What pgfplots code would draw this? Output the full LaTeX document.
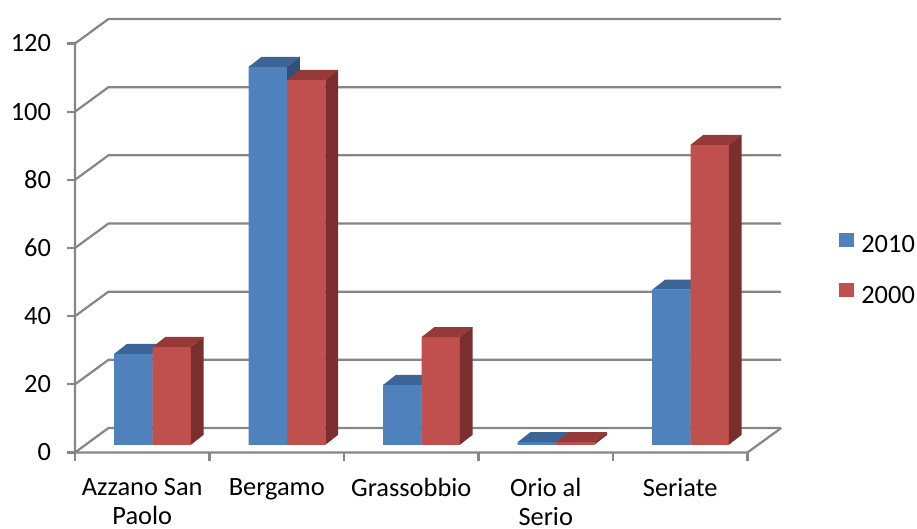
\documentclass[border=0pt]{standalone}
\usepackage{pgfplots}
\pgfplotsset{compat=1.18}
\usepackage{fontspec}
\setmainfont{Carlito}
\definecolor{bfront}{HTML}{4F81BD}
\definecolor{btop}{HTML}{3C6597}
\definecolor{bside}{HTML}{2F5079}
\definecolor{rfront}{HTML}{C0504D}
\definecolor{rtop}{HTML}{963A38}
\definecolor{rside}{HTML}{7A2E2D}
\definecolor{gridc}{HTML}{868686}
\newcommand{\faces}[4]{%
  \pgfmathsetmacro{\xa}{#1}%
  \pgfmathsetmacro{\xb}{#1+0.2848}%
  \pgfmathsetmacro{\xc}{#1+0.0952}%
  \pgfmathsetmacro{\xd}{#1+0.38}%
  \pgfmathsetmacro{\yt}{#2+2.93}%
  \addplot[fill=#3,draw=none,forget plot] coordinates {(\xa,#2) (\xb,#2) (\xd,\yt) (\xc,\yt)} --cycle;
  \addplot[fill=#4,draw=none,forget plot] coordinates {(\xb,0) (\xd,2.93) (\xd,\yt) (\xb,#2)} --cycle;
}
\pgfplotsset{
  mybar/.style={ybar, bar width=19.15pt, draw=none,
    legend image code/.code={\fill[##1] (0pt,0pt) rectangle (7.5pt,7.1pt);}},
}
\begin{document}
\begin{tikzpicture}
\useasboundingbox (0,0) rectangle (458.5pt,264.5pt);
% front plane axis: ticks, labels, walls
\begin{axis}[
  at={(37.5pt,38.25pt)}, anchor=south west,
  scale only axis, width=336.25pt, height=204.5pt,
  xmin=-0.5, xmax=4.5, ymin=0, ymax=120,
  clip=false,
  axis line style={draw=none},
  major tick length=0pt,
  ytick={0,20,...,120},
  xtick={0,1,2,3,4},
  xticklabels={{Azzano San\\Paolo},Bergamo,Grassobbio,{Orio al\\Serio},Seriate},
  tick label style={font=\fontsize{13.2}{14.2}\selectfont},
  /pgf/number format/assume math mode=true,
  yticklabel style={anchor=east, inner sep=0pt, xshift=-11.8pt},
  xticklabel style={anchor=north, inner sep=0pt, yshift=-12.8pt, align=center},
]
\pgfplotsinvokeforeach{0,20,40,60,80,100,120}{
  \draw[gridc, line width=1.1pt] (axis cs:-0.5,#1) -- (axis cs:-0.251,#1+7.19) -- (axis cs:4.751,#1+7.19);
  \draw[gridc, line width=1.1pt] (axis cs:-0.5,#1) -- ++(-4pt,0pt);
}
\draw[gridc, line width=1.1pt] (axis cs:-0.5,120) -- (axis cs:-0.5,0) -- (axis cs:4.5,0) -- (axis cs:4.751,7.19);
\pgfplotsinvokeforeach{-0.5,0.5,1.5,2.5,3.5,4.5}{
  \draw[gridc, line width=1.1pt] (axis cs:#1,0) -- ++(0pt,-4.5pt);
}
\end{axis}
% bar plane axis
\begin{axis}[
  at={(42.65pt,42.1pt)}, anchor=south west,
  scale only axis, width=336.25pt, height=204.5pt,
  xmin=-0.5, xmax=4.5, ymin=0, ymax=120,
  clip=false,
  axis line style={draw=none},
  ticks=none,
  legend style={at={(1.1207,0.425)}, anchor=west, draw=none, fill=none,
    inner sep=0pt, row sep=12pt,
    font=\fontsize{13.2}{15}\selectfont,
    nodes={inner sep=0pt, text height=9pt, text depth=3pt},
    /tikz/every odd column/.style={column sep=3.5pt}},
  legend cell align=left,
]
\addplot[mybar, fill=bfront, bar shift=-9.575pt] coordinates {(0,26.7) (1,110.9) (2,17.6) (3,0.8) (4,45.5)};
\faces{-0.2848}{26.7}{btop}{bside}
\faces{0.7152}{110.9}{btop}{bside}
\faces{1.7152}{17.6}{btop}{bside}
\faces{2.7152}{0.8}{btop}{bside}
\faces{3.7152}{45.5}{btop}{bside}
\addplot[mybar, fill=rfront, bar shift=9.575pt] coordinates {(0,28.7) (1,107.1) (2,31.6) (3,0.8) (4,88.0)};
\faces{0}{28.7}{rtop}{rside}
\faces{1}{107.1}{rtop}{rside}
\faces{2}{31.6}{rtop}{rside}
\faces{3}{0.8}{rtop}{rside}
\faces{4}{88.0}{rtop}{rside}
\legend{2010,2000}
\end{axis}
\end{tikzpicture}
\end{document}
